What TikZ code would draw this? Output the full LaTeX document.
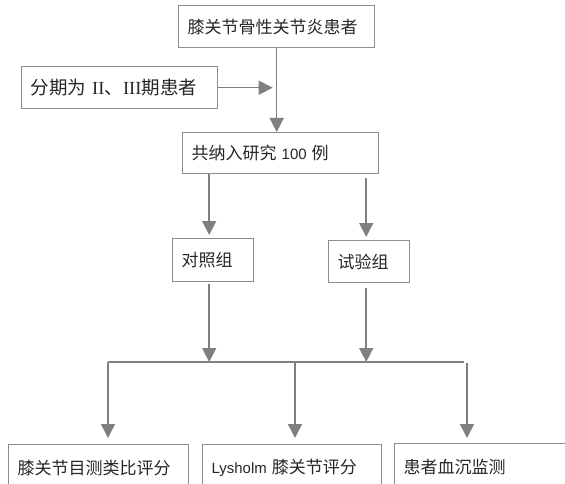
\documentclass[tikz,border=0pt]{standalone}
\usepackage{fontspec}
\setmainfont{Liberation Sans}[Scale=0.88]
\newfontfamily\cjk{Noto Sans CJK SC}
\newfontfamily\romnum{Liberation Serif}
\usetikzlibrary{arrows.meta}
\definecolor{linegray}{HTML}{808080}
\definecolor{boxgray}{HTML}{8C8C8C}
\definecolor{textc}{HTML}{262626}
\tikzset{
  box/.style={draw=boxgray, line width=1.4pt, anchor=north west, inner xsep=9pt,
    inner ysep=0pt, align=left, text=textc, font=\fontsize{17}{20}\selectfont},
  conn/.style={draw=linegray, line width=1.5pt},
  arr/.style={conn, -{Triangle[length=14pt,width=14pt]}}
}
\begin{document}
\begin{tikzpicture}[x=1pt,y=-1pt]
\path[use as bounding box, clip] (0,0) rectangle (565,484);
\node[box, text width=178pt, minimum height=42pt] (top) at (178,5) {{\cjk 膝关节骨性关节炎患者}};
\node[box, text width=178pt, minimum height=42pt, font=\fontsize{18.5}{20}\selectfont] (left) at (21,66) {{\cjk 分期为}\hspace{6pt}{\romnum II}{\cjk 、}{\romnum III}{\cjk 期患者}};
\node[box, text width=178pt, minimum height=41pt] (b2) at (182,132) {{\cjk 共纳入研究} 100 {\cjk 例}};
\node[box, text width=63pt, minimum height=43pt] (g1) at (172,238) {{\cjk 对照组}};
\node[box, text width=63pt, minimum height=42pt] (g2) at (328,240) {{\cjk 试验组}};
\node[box, text width=162pt, minimum height=46pt] (m1) at (8,444) {{\cjk 膝关节目测类比评分}};
\node[box, text width=161pt, minimum height=46pt] (m2) at (202,444) {Lysholm {\cjk 膝关节评分}};
\node[box, text width=182pt, minimum height=46pt] (m3) at (394,443) {{\cjk 患者血沉监测}};
\coordinate (busL) at (108,362);
\coordinate (busM) at (295,362);
\coordinate (busR) at (464,362);
\coordinate (busR2) at (467,363);
\draw[arr] (top.south) -- (top.south |- b2.north);
\draw[arr, shorten >=4pt] (left.east) -- (left.east -| top.south);
\draw[arr, shorten >=3pt] ([xshift=-4pt]b2.south -| g1.north) -- ([xshift=-4pt]g1.north);
\draw[arr, shorten <=4pt, shorten >=3pt] ([xshift=-3pt]g2.north |- b2.south) -- ([xshift=-3pt]g2.north);
\draw[conn] (busL) -- (busR);
\draw[arr, shorten <=2pt] ([xshift=-4pt]g1.south) -- ([xshift=-4pt]g1.south |- busL);
\draw[arr, shorten <=5pt] ([xshift=-3pt]g2.south) -- ([xshift=-3pt]g2.south |- busL);
\draw[arr, shorten >=6pt] (busL) -- (busL |- m1.north);
\draw[arr, shorten >=6pt] (busM) -- (busM |- m2.north);
\draw[arr, shorten >=5pt] (busR2) -- (busR2 |- m3.north);
\end{tikzpicture}
\end{document}
